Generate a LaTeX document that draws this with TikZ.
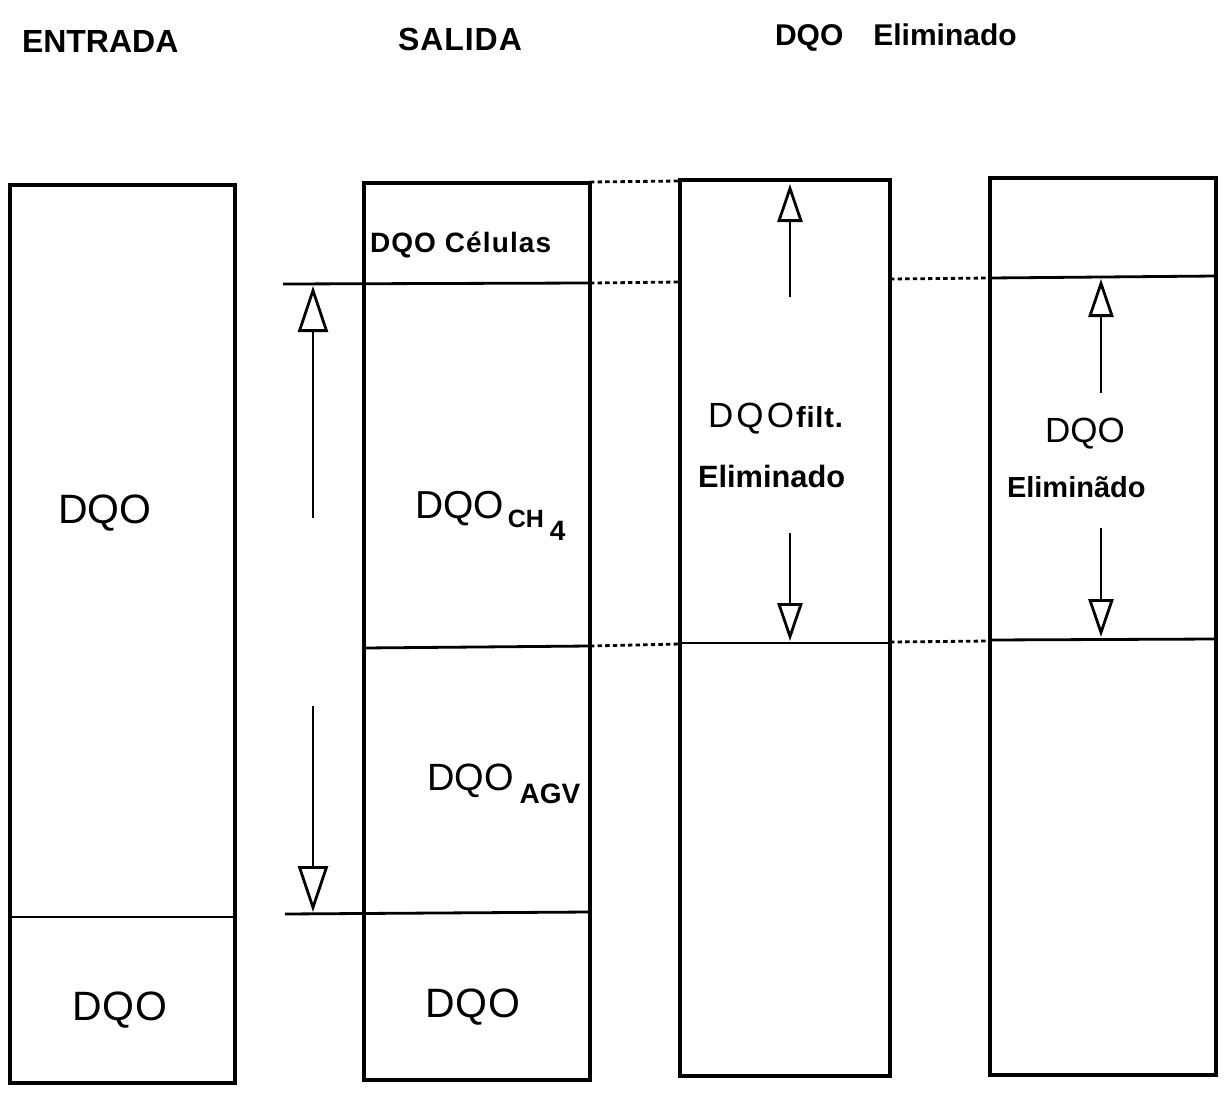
\documentclass[tikz,border=0pt]{standalone}
\usepackage{fontspec}
\setmainfont{Liberation Sans}
\usetikzlibrary{arrows.meta}
\newcommand\myfs[1]{\fontsize{#1}{#1}\selectfont}
\begin{document}
\begin{tikzpicture}[x=0.5pt,y=-0.5pt,
  boxline/.style={line width=1.7pt},
  divline/.style={line width=1.4pt},
  dotline/.style={line width=1.4pt, dash pattern=on 2.2pt off 1.6pt},
  bigarr/.style={line width=1.4pt, -{Triangle[open,length=23pt,width=15pt]}},
  smallarr/.style={line width=1.4pt, -{Triangle[open,length=19pt,width=12.5pt]}},
  lbl/.style={anchor=base west, inner sep=0pt, outer sep=0pt},
]
\useasboundingbox (0,0) rectangle (1228,1098);

% boxes
\coordinate (b1nw) at (10,185);  \coordinate (b1se) at (235,1083);
\coordinate (b2nw) at (364,183); \coordinate (b2se) at (590,1080);
\coordinate (b3nw) at (680,180); \coordinate (b3se) at (890,1076);
\coordinate (b4nw) at (990,178); \coordinate (b4se) at (1216,1075);
\draw[boxline] (b1nw) rectangle (b1se);
\draw[boxline] (b2nw) rectangle (b2se);
\draw[boxline] (b3nw) rectangle (b3se);
\draw[boxline] (b4nw) rectangle (b4se);

% divisions
\draw[divline] (10,917) -- (235,917);
\draw[divline] (283,284) -- (590,283);
\draw[divline] (364,648) -- (590,646);
\draw[divline] (285,914) -- (590,912);
\draw[divline] (680,643) -- (890,643);
\draw[divline] (990,278) -- (1216,276);
\draw[divline] (990,640) -- (1216,639);

% dotted guide lines
\draw[dotline] (590,182) -- (680,181);
\draw[dotline] (590,283) -- (680,282);
\draw[dotline] (590,646) -- (680,644);
\draw[dotline] (890,279) -- (990,278);
\draw[dotline] (890,642) -- (990,641);

% arrows
\coordinate (la1) at (313,518); \coordinate (la2) at (313,286);
\coordinate (la3) at (313,706); \coordinate (la4) at (313,912);
\coordinate (ma1) at (790,297); \coordinate (ma2) at (790,184);
\coordinate (ma3) at (790,533); \coordinate (ma4) at (790,641);
\coordinate (ra1) at (1101,393); \coordinate (ra2) at (1101,279);
\coordinate (ra3) at (1101,528); \coordinate (ra4) at (1101,637);
\draw[bigarr] (la1) -- (la2);
\draw[bigarr] (la3) -- (la4);
\draw[smallarr] (ma1) -- (ma2);
\draw[smallarr] (ma3) -- (ma4);
\draw[smallarr] (ra1) -- (ra2);
\draw[smallarr] (ra3) -- (ra4);

% headings
\node[lbl, font=\bfseries\myfs{16pt}] (tEntrada) at (22,52) {ENTRADA};
\node[lbl, font={\bfseries\myfs{16pt}\addfontfeature{LetterSpace=3}}] (tSalida) at (398,50) {SALIDA};
\node[lbl, font=\bfseries\myfs{15pt}] (tElim) at (775,45) {DQO\hspace{15pt}Eliminado};

% box 1
\node[lbl, font=\myfs{20.5pt}] (e1) at (58,523) {DQO};
\node[lbl, font={\myfs{20.5pt}\addfontfeature{LetterSpace=2}}] (e2) at (72,1020) {DQO};

% box 2
\node[lbl, font={\bfseries\myfs{14pt}\addfontfeature{LetterSpace=4}}] (s1) at (370,252) {DQO Células};
\node[lbl] (s2) at (415,518) {{\myfs{19.5pt}DQO}\hspace{2pt}\raisebox{-4.5pt}{\bfseries\myfs{12.5pt}CH\hspace{3pt}\raisebox{-6.5pt}{\myfs{14pt}4}}};
\node[lbl] (s3) at (427,790) {{\myfs{19pt}DQO}\hspace{3pt}\raisebox{-6.5pt}{\bfseries\myfs{14pt}AGV}};
\node[lbl, font={\myfs{20.5pt}\addfontfeature{LetterSpace=2}}] (s4) at (425,1017) {DQO};

% box 3
\node[lbl] (f1) at (708,427) {{\myfs{17.5pt}\addfontfeature{LetterSpace=9}DQO}\hspace{1pt}{\bfseries\myfs{14.5pt}\addfontfeature{LetterSpace=3}filt.}};
\node[lbl, font=\bfseries\myfs{15.4pt}] (f2) at (698,487) {Eliminado};

% box 4
\node[lbl, font=\myfs{17.5pt}] (g1) at (1045,442) {DQO};
\node[lbl, font=\bfseries\myfs{14.5pt}] (g2) at (1007,497) {Eliminãdo};
\end{tikzpicture}
\end{document}
